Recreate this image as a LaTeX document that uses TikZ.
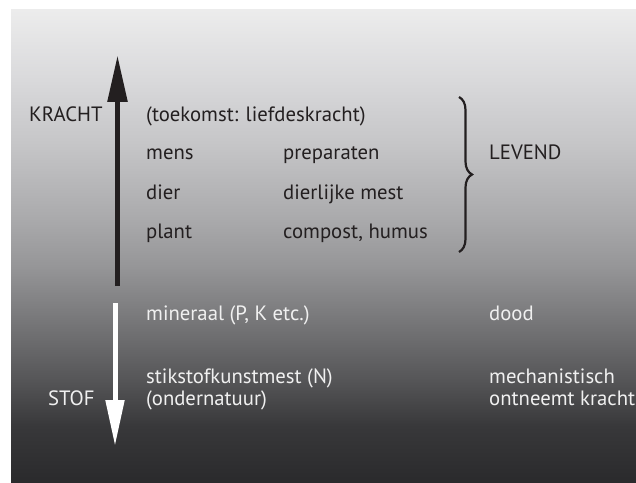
\documentclass[tikz,border=0pt]{standalone}
\usepackage{fontspec}
\setmainfont{PT Sans}
\usetikzlibrary{arrows.meta,decorations.pathreplacing}
\definecolor{shB}{RGB}{42,42,44}
\definecolor{shC}{RGB}{56,56,58}
\definecolor{shD}{RGB}{86,86,88}
\definecolor{shE}{RGB}{118,118,120}
\definecolor{shF}{RGB}{150,150,152}
\definecolor{shG}{RGB}{170,170,172}
\definecolor{shH}{RGB}{198,198,200}
\definecolor{shI}{RGB}{218,218,220}
\definecolor{shJ}{RGB}{236,236,236}
\definecolor{darktext}{RGB}{35,31,32}
\definecolor{lighttext}{RGB}{240,240,240}
\pgfdeclareverticalshading{panelshade}{100bp}{%
  color(0bp)=(shB);
  color(25bp)=(shB);
  color(31bp)=(shC);
  color(36bp)=(shD);
  color(42bp)=(shE);
  color(48bp)=(shF);
  color(53bp)=(shG);
  color(61bp)=(shH);
  color(68bp)=(shI);
  color(75bp)=(shJ);
  color(100bp)=(shJ)}
\tikzset{
  dk/.style={anchor=base west, inner sep=0pt, text=darktext, font=\fontsize{20.8}{23}\selectfont},
  lt/.style={anchor=base west, inner sep=0pt, text=lighttext, font=\fontsize{20.8}{23}\selectfont},
  uparrow/.style={draw=darktext, line width=5.5bp, -{Triangle[length=47bp,width=19bp]}},
  downarrow/.style={draw=white, line width=5bp, -{Triangle[length=46bp,width=18bp]}},
}
\begin{document}
\begin{tikzpicture}[x=1bp,y=-1bp]
\useasboundingbox (0,0) rectangle (636,483);
\fill[white] (0,0) rectangle (636,483);
\shade[shading=panelshade] (11,10) rectangle (636,483);
% arrows
\coordinate (ua) at (117.5,286);
\coordinate (ub) at (117.5,55);
\coordinate (da) at (115,303);
\coordinate (db) at (115,446);
\draw[uparrow] (ua) -- (ub);
\draw[downarrow] (da) -- (db);
% labels
\node[dk] (kracht) at (29,122) {KRACHT};
\node[dk] (toek) at (146,122) {(toekomst: liefdeskracht)};
\node[dk] (mens) at (146,160) {mens};
\node[dk] (prep) at (283,160) {preparaten};
\node[dk] (dier) at (146,200) {dier};
\node[dk] (dmest) at (283,200) {dierlijke mest};
\node[dk] (plant) at (146,239) {plant};
\node[dk] (comp) at (283,239) {compost, humus};
\node[dk] (levend) at (489,160) {LEVEND};
\coordinate (bt) at (459,97);
\coordinate (bb) at (459,252);
\draw[darktext, line width=2.2bp, decorate, decoration={brace, amplitude=13bp}] (bt) -- (bb);
\node[lt] (min) at (146,320) {mineraal (P, K etc.)};
\node[lt] (dood) at (489,320) {dood};
\node[lt] (stik) at (146,383) {stikstofkunstmest (N)};
\node[lt] (onder) at (146,405) {(ondernatuur)};
\node[lt] (mech) at (489,383) {mechanistisch};
\node[lt] (ontn) at (489,405) {ontneemt kracht};
\node[lt] (stof) at (48,405) {STOF};
\end{tikzpicture}
\end{document}
